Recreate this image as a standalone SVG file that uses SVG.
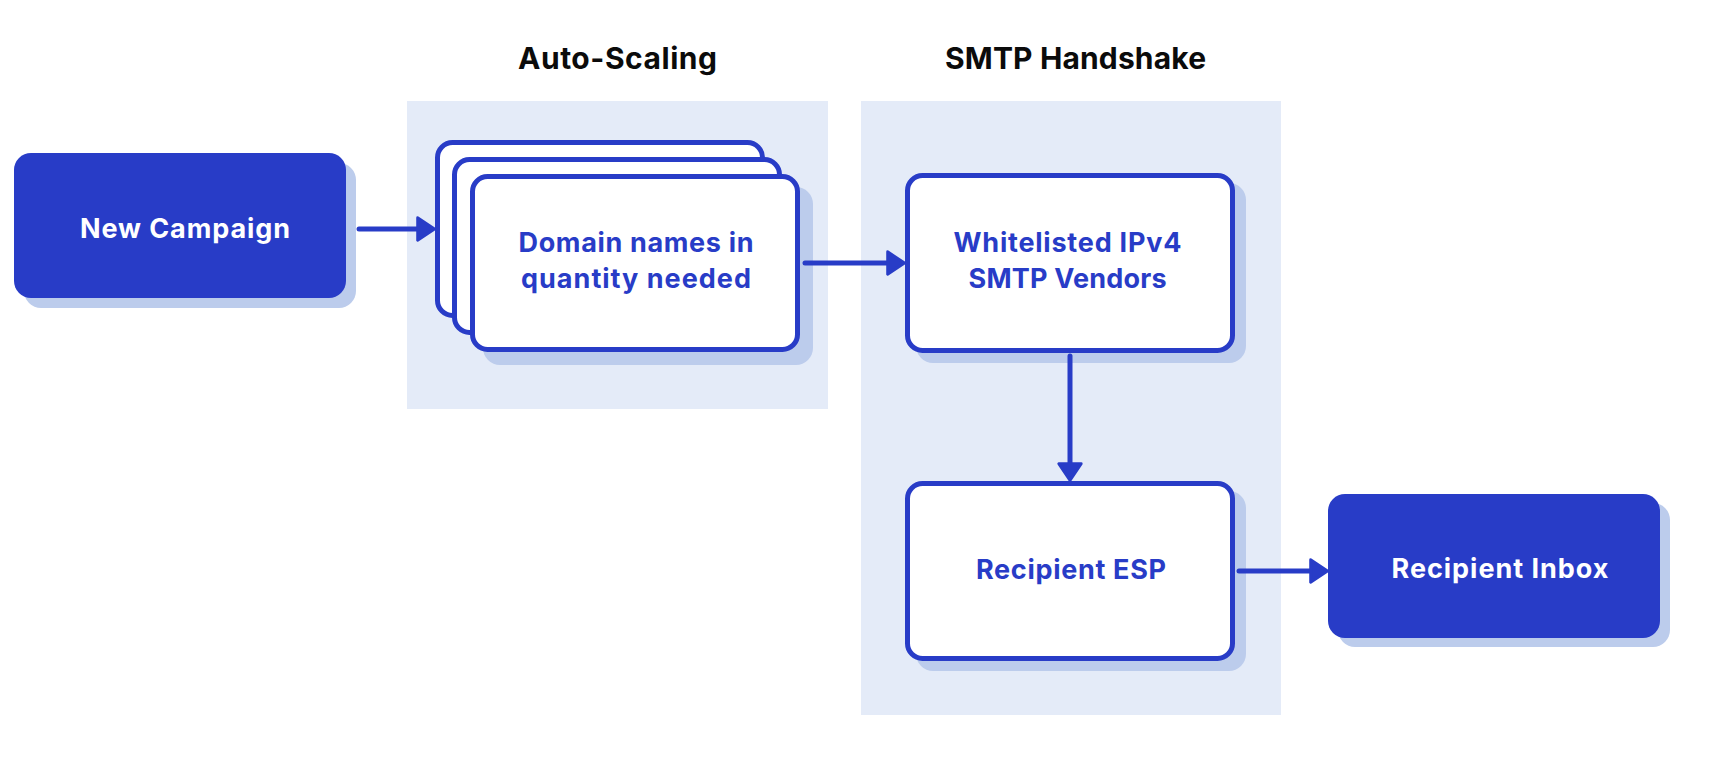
<svg xmlns="http://www.w3.org/2000/svg" width="1709" height="767" viewBox="0 0 1709 767">
  <style>
    .panel { fill: #E4EBF8; }
    .title { font-family: Inter, "Liberation Sans", sans-serif; font-weight: 700; font-size: 30px; fill: #0B0B0B; text-anchor: middle; }
    .shadow { fill: #BCCCEC; }
    .solid { fill: #283CC7; }
    .card { fill: #FFFFFF; stroke: #283CC7; stroke-width: 5; }
    .lbl { font-family: Inter, "Liberation Sans", sans-serif; font-weight: 700; font-size: 27px; text-anchor: middle; }
    .lbl-w { fill: #FFFFFF; }
    .lbl-b { fill: #283CC7; }
    .conn { fill: none; stroke: #283CC7; stroke-width: 5; stroke-linecap: round; }
  </style>
  <defs>
    <marker id="arrow" markerUnits="userSpaceOnUse" markerWidth="30" markerHeight="30" viewBox="-4 -4 30 32" refX="10" refY="12" orient="auto">
      <path d="M0,0 L18,12 L0,24 Z" fill="#283CC7" stroke="#283CC7" stroke-width="3" stroke-linejoin="round"/>
    </marker>
  </defs>
  <rect width="1709" height="767" fill="#FFFFFF"/>

  <g id="panel-autoscaling">
    <rect class="panel" x="407" y="101" width="421" height="308"/>
    <text class="title" x="617.5" y="69" textLength="199" lengthAdjust="spacing">Auto-Scaling</text>
  </g>
  <g id="panel-smtp">
    <rect class="panel" x="861" y="101" width="420" height="614"/>
    <text class="title" x="1075.5" y="69" textLength="261" lengthAdjust="spacing">SMTP Handshake</text>
  </g>

  <g id="node-new-campaign">
    <rect class="shadow" x="24" y="163" width="332" height="145" rx="17"/>
    <rect class="solid" x="14" y="153" width="332" height="145" rx="17"/>
    <text class="lbl lbl-w" x="185" y="238" textLength="210" lengthAdjust="spacing">New Campaign</text>
  </g>

  <g id="node-domains">
    <rect class="card" x="437.5" y="142.5" width="325" height="173" rx="15"/>
    <rect class="card" x="454.5" y="159.5" width="325" height="173" rx="15"/>
    <rect class="shadow" x="483" y="187" width="330" height="178" rx="17"/>
    <rect class="card" x="472.5" y="176.5" width="325" height="173" rx="15"/>
    <text class="lbl lbl-b" x="636" y="252" textLength="235" lengthAdjust="spacing">Domain names in</text>
    <text class="lbl lbl-b" x="636" y="288" textLength="230" lengthAdjust="spacing">quantity needed</text>
  </g>

  <g id="node-whitelisted">
    <rect class="shadow" x="916" y="183" width="330" height="180" rx="17"/>
    <rect class="card" x="907.5" y="175.5" width="325" height="175" rx="15"/>
    <text class="lbl lbl-b" x="1067.5" y="252" textLength="228" lengthAdjust="spacing">Whitelisted IPv4</text>
    <text class="lbl lbl-b" x="1067.5" y="288" textLength="198" lengthAdjust="spacing">SMTP Vendors</text>
  </g>

  <g id="node-recipient-esp">
    <rect class="shadow" x="916" y="491" width="330" height="180" rx="17"/>
    <rect class="card" x="907.5" y="483.5" width="325" height="175" rx="15"/>
    <text class="lbl lbl-b" x="1071" y="579" textLength="190" lengthAdjust="spacing">Recipient ESP</text>
  </g>

  <g id="node-recipient-inbox">
    <rect class="shadow" x="1338" y="503" width="332" height="144" rx="17"/>
    <rect class="solid" x="1328" y="494" width="332" height="144" rx="17"/>
    <text class="lbl lbl-w" x="1500" y="578" textLength="217" lengthAdjust="spacing">Recipient Inbox</text>
  </g>

  <g id="connectors">
    <path class="conn" d="M359,229 L427,229" marker-end="url(#arrow)"/>
    <path class="conn" d="M805,263 L897,263" marker-end="url(#arrow)"/>
    <path class="conn" d="M1070,356 L1070,473" marker-end="url(#arrow)"/>
    <path class="conn" d="M1239,571 L1320,571" marker-end="url(#arrow)"/>
  </g>
</svg>
